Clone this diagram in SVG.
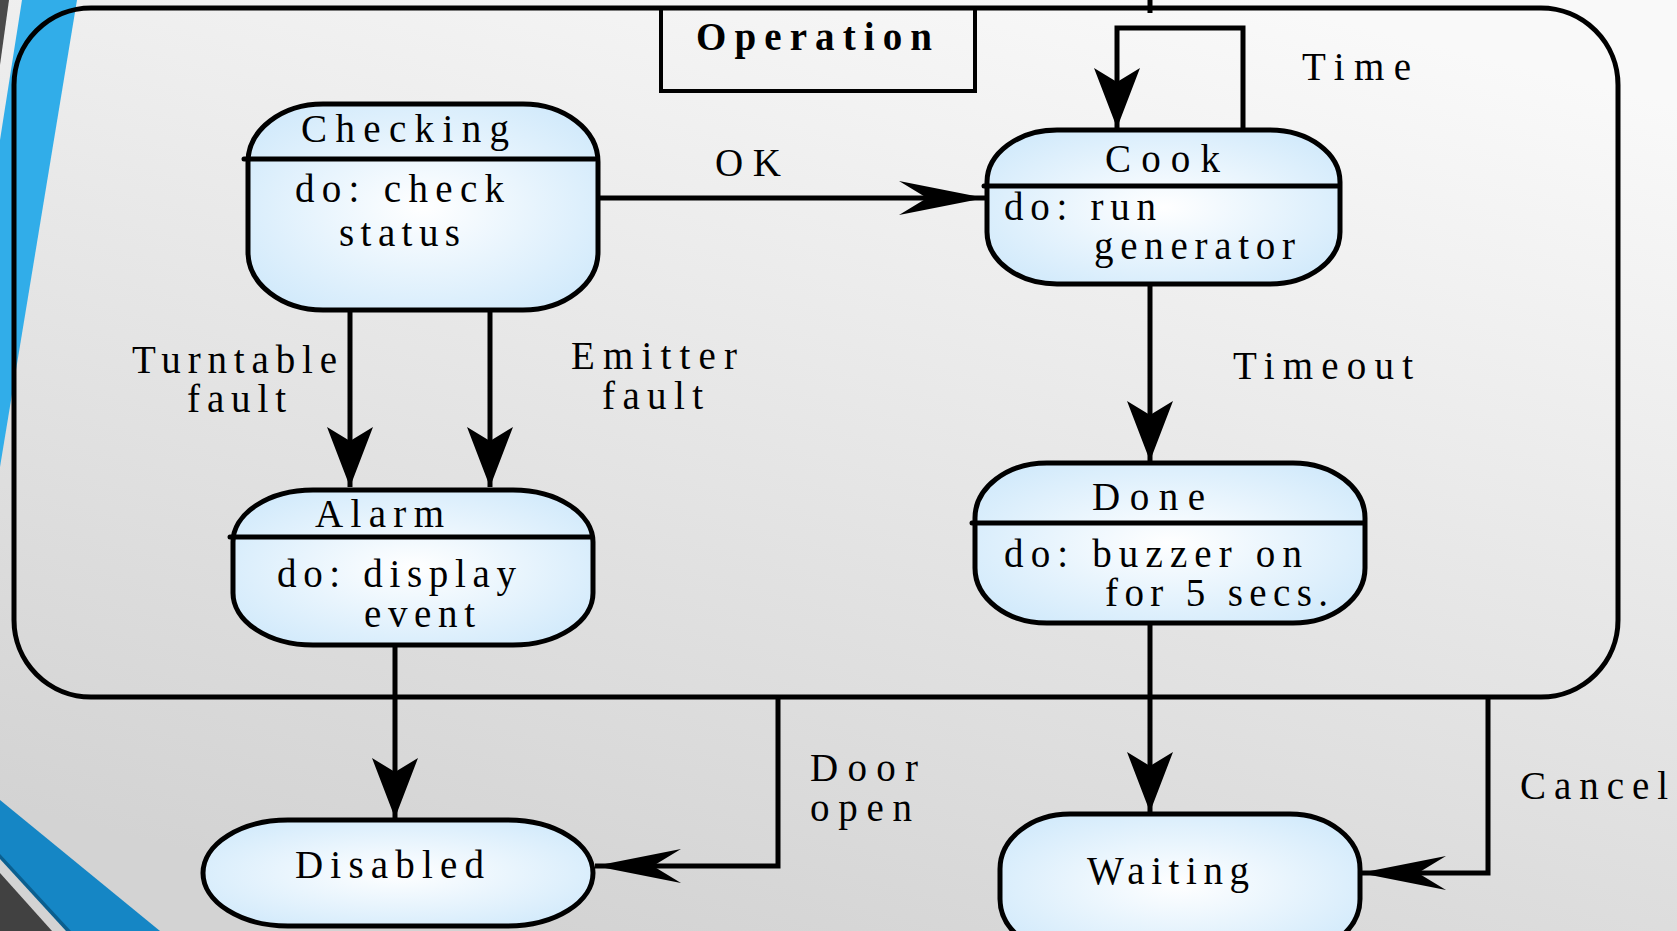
<svg xmlns="http://www.w3.org/2000/svg" width="1677" height="931" viewBox="0 0 1677 931">
<style>
.t{font-family:"Liberation Serif","Times New Roman",serif;font-size:39px;fill:#000}
.b{font-weight:bold}
.node{fill:url(#ng);stroke:#000;stroke-width:5}
.div{stroke:#000;stroke-width:5;stroke-linecap:round}
.c{fill:none;stroke:#000;stroke-width:5}
</style>
<defs>
<linearGradient id="bg" x1="0.75" y1="0" x2="0.3" y2="1">
<stop offset="0" stop-color="#f9f9f9"/>
<stop offset="1" stop-color="#d3d3d3"/>
</linearGradient>
<radialGradient id="ng" cx="0.5" cy="0.5" r="0.6">
<stop offset="0" stop-color="#ffffff"/>
<stop offset="1" stop-color="#d2eafb"/>
</radialGradient>
<marker id="aV" markerUnits="userSpaceOnUse" viewBox="-62 -25 64 50" refX="0" refY="0" markerWidth="64" markerHeight="50" orient="auto">
<path d="M0,0 L-60,-23 L-46,0 L-60,23 Z" fill="#000"/>
</marker>
<marker id="aH" markerUnits="userSpaceOnUse" viewBox="-90 -20 92 40" refX="0" refY="0" markerWidth="92" markerHeight="40" orient="auto">
<path d="M0,0 L-86,-17 L-58,0 L-86,17 Z" fill="#000"/>
</marker>
</defs>

<g id="background">
<rect width="1677" height="931" fill="url(#bg)"/>
<polygon points="0,0 9,0 0,65" fill="#4a4a4a"/>
<polygon points="22,0 77,0 0,467 0,140" fill="#31ade9"/>
<polygon points="0,800 160,931 68,931 0,857" fill="#1586c5"/>
<polygon points="0,854 71,931 66,931 0,859" fill="#0b5f8f"/>
<polygon points="0,873 52,931 0,931" fill="#414141"/>
</g>

<g id="frame">
<rect x="14" y="8" width="1604" height="689" rx="77" ry="77" fill="none" stroke="#000" stroke-width="5"/>
<line x1="1150" y1="0" x2="1150" y2="13" stroke="#000" stroke-width="5"/>
<rect x="661" y="8" width="314" height="83" fill="none" stroke="#000" stroke-width="4"/>
<text class="t b" x="696" y="50" textLength="236" lengthAdjust="spacing">Operation</text>
</g>

<g id="connectors">
<path class="c" d="M599,198 H985" marker-end="url(#aH)"/>
<path class="c" d="M1243,130 V28 H1117 V128" marker-end="url(#aV)"/>
<path class="c" d="M350,306 V487" marker-end="url(#aV)"/>
<path class="c" d="M490,306 V487" marker-end="url(#aV)"/>
<path class="c" d="M1150,282 V461" marker-end="url(#aV)"/>
<path class="c" d="M395,644 V818" marker-end="url(#aV)"/>
<path class="c" d="M1150,621 V812" marker-end="url(#aV)"/>
<path class="c" d="M778,697 V866 H595" marker-end="url(#aH)"/>
<path class="c" d="M1488,697 V873 H1360" marker-end="url(#aH)"/>
<text class="t" x="715" y="176" textLength="66" lengthAdjust="spacing">OK</text>
<text class="t" x="1302" y="80" textLength="109" lengthAdjust="spacing">Time</text>
<text class="t" x="132" y="373" textLength="205" lengthAdjust="spacing">Turntable</text>
<text class="t" x="187" y="412" textLength="99" lengthAdjust="spacing">fault</text>
<text class="t" x="571" y="369" textLength="166" lengthAdjust="spacing">Emitter</text>
<text class="t" x="602" y="409" textLength="101" lengthAdjust="spacing">fault</text>
<text class="t" x="1233" y="379" textLength="180" lengthAdjust="spacing">Timeout</text>
<text class="t" x="810" y="781" textLength="108" lengthAdjust="spacing">Door</text>
<text class="t" x="810" y="821" textLength="102" lengthAdjust="spacing">open</text>
<text class="t" x="1520" y="799" textLength="148" lengthAdjust="spacing">Cancel</text>
</g>

<g id="checking">
<rect class="node" x="248" y="104" width="350" height="206" rx="75" ry="58"/>
<line class="div" x1="244" y1="159" x2="595" y2="159"/>
<text class="t" x="301" y="142" textLength="208" lengthAdjust="spacing">Checking</text>
<text class="t" x="295" y="202" textLength="209" lengthAdjust="spacing">do: check</text>
<text class="t" x="339" y="246" textLength="121" lengthAdjust="spacing">status</text>
</g>

<g id="cook">
<rect class="node" x="987" y="130" width="353" height="154" rx="70" ry="52"/>
<line class="div" x1="984" y1="186" x2="1339" y2="186"/>
<text class="t" x="1105" y="172" textLength="115" lengthAdjust="spacing">Cook</text>
<text class="t" x="1004" y="220" textLength="152" lengthAdjust="spacing">do: run</text>
<text class="t" x="1094" y="259" textLength="201" lengthAdjust="spacing">generator</text>
</g>

<g id="alarm">
<rect class="node" x="233" y="490" width="360" height="155" rx="80" ry="52"/>
<line class="div" x1="230" y1="537" x2="592" y2="537"/>
<text class="t" x="315" y="527" textLength="129" lengthAdjust="spacing">Alarm</text>
<text class="t" x="277" y="587" textLength="239" lengthAdjust="spacing">do: display</text>
<text class="t" x="364" y="627" textLength="111" lengthAdjust="spacing">event</text>
</g>

<g id="done">
<rect class="node" x="975" y="463" width="390" height="160" rx="72" ry="55"/>
<line class="div" x1="972" y1="523" x2="1364" y2="523"/>
<text class="t" x="1092" y="510" textLength="113" lengthAdjust="spacing">Done</text>
<text class="t" x="1004" y="567" textLength="298" lengthAdjust="spacing">do: buzzer on</text>
<text class="t" x="1105" y="606" textLength="223" lengthAdjust="spacing">for 5 secs.</text>
</g>

<g id="disabled">
<rect class="node" x="203" y="820" width="390" height="106" rx="85" ry="53"/>
<text class="t" x="295" y="878" textLength="189" lengthAdjust="spacing">Disabled</text>
</g>

<g id="waiting">
<rect class="node" x="1000" y="814" width="360" height="140" rx="70" ry="55"/>
<text class="t" x="1087" y="884" textLength="162" lengthAdjust="spacing">Waiting</text>
</g>
</svg>
